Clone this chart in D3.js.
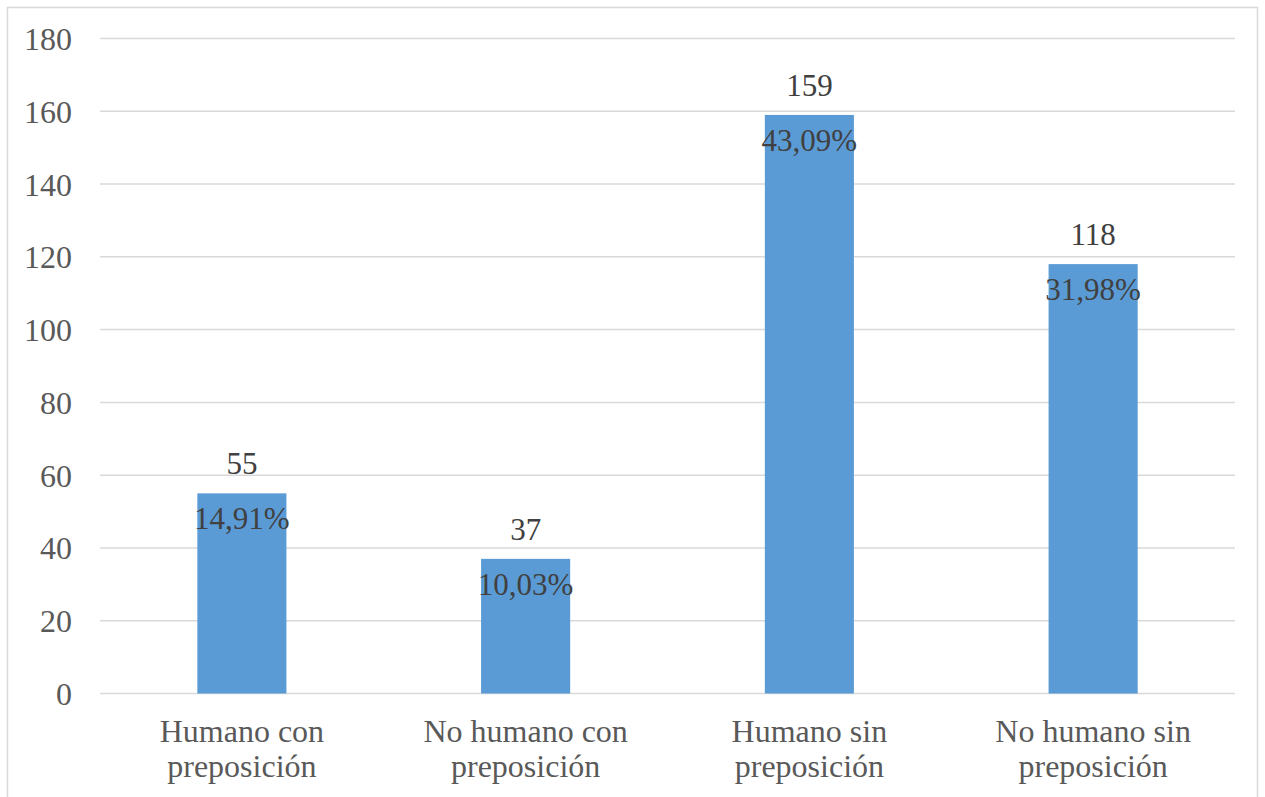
<!DOCTYPE html>
<html>
<head>
<meta charset="utf-8">
<script src="https://cdn.jsdelivr.net/npm/d3@7"></script>
<style>
  html, body { margin: 0; padding: 0; background: #fff; }
  svg { display: block; }
</style>
</head>
<body>
<svg id="chart" width="1265" height="797"></svg>
<script>
// Counts per category and their share of the total
const categories = [
  ["Humano con", "preposición"],
  ["No humano con", "preposición"],
  ["Humano sin", "preposición"],
  ["No humano sin", "preposición"]
];
const counts = [55, 37, 159, 118];
const percentLabels = ["14,91%", "10,03%", "43,09%", "31,98%"];
const yTicks = [0, 20, 40, 60, 80, 100, 120, 140, 160, 180];

const FONT = "'Times New Roman', 'Liberation Serif', 'DejaVu Serif', serif";

const svg = d3.select("#chart")
  .attr("font-family", FONT)
  .style("font-family", FONT);
const plot = { left: 100, right: 1235, top: 38.5, bottom: 693.5 };

// Outer frame
svg.append("rect")
  .attr("x", 7.5).attr("y", 7.5)
  .attr("width", 1250).attr("height", 820)
  .attr("fill", "#fff")
  .attr("stroke", "#d9d9d9").attr("stroke-width", 1.5);

const x = d3.scaleBand()
  .domain(d3.range(categories.length))
  .range([plot.left, plot.right])
  .padding(0);

const y = d3.scaleLinear()
  .domain([0, 180])
  .range([plot.bottom, plot.top]);

// Horizontal gridlines
svg.append("g")
  .selectAll("line")
  .data(yTicks)
  .join("line")
  .attr("x1", plot.left).attr("x2", plot.right)
  .attr("y1", d => y(d)).attr("y2", d => y(d))
  .attr("stroke", "#d9d9d9").attr("stroke-width", 1.5);

// Y axis labels
svg.append("g")
  .selectAll("text")
  .data(yTicks)
  .join("text")
  .attr("x", 72)
  .attr("y", d => y(d) + 11.5)
  .attr("text-anchor", "end")
  .attr("font-size", 32)
  .attr("fill", "#595959")
  .text(d => d);

// Bars
const barW = x.bandwidth() * 0.314;
const idx = d3.range(counts.length);
svg.append("g")
  .selectAll("rect")
  .data(idx)
  .join("rect")
  .attr("x", i => x(i) + x.bandwidth() / 2 - barW / 2)
  .attr("y", i => y(counts[i]))
  .attr("width", barW)
  .attr("height", i => y(0) - y(counts[i]))
  .attr("fill", "#5b9bd5");

// Value labels above bars
svg.append("g")
  .selectAll("text")
  .data(idx)
  .join("text")
  .attr("x", i => x(i) + x.bandwidth() / 2)
  .attr("y", i => y(counts[i]) - 19)
  .attr("text-anchor", "middle")
  .attr("font-size", 31)
  .attr("fill", "#404040")
  .text(i => counts[i]);

// Percentage labels inside bar tops
svg.append("g")
  .selectAll("text")
  .data(idx)
  .join("text")
  .attr("x", i => x(i) + x.bandwidth() / 2)
  .attr("y", i => y(counts[i]) + 36)
  .attr("text-anchor", "middle")
  .attr("font-size", 31)
  .attr("fill", "#404040")
  .text(i => percentLabels[i]);

// Category labels (two lines)
const cat = svg.append("g")
  .selectAll("text")
  .data(idx)
  .join("text")
  .attr("text-anchor", "middle")
  .attr("font-size", 32)
  .attr("fill", "#595959");
cat.each(function(i) {
  const t = d3.select(this);
  categories[i].forEach((line, k) => {
    t.append("tspan")
      .attr("x", x(i) + x.bandwidth() / 2)
      .attr("y", 742 + k * 35)
      .text(line);
  });
});
</script>
</body>
</html>
